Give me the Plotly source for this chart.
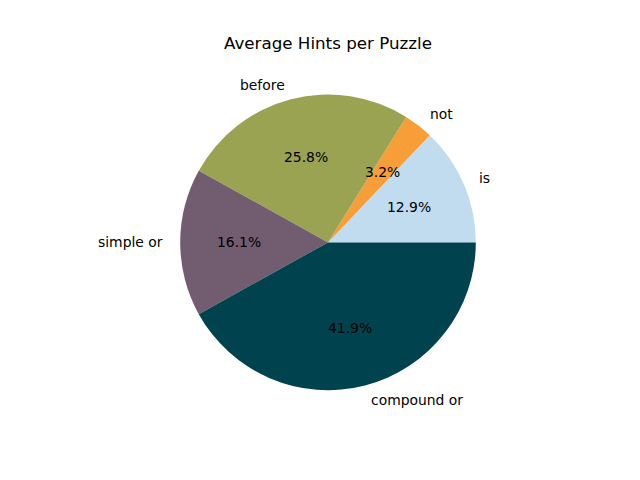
import numpy as np
import plotly.graph_objects as go

labels = ["is", "not", "before", "simple or", "compound or"]
values = [0.4, 0.1, 0.8, 0.5, 1.3]
colors = ["#c1dcef", "#f89e38", "#99a352", "#725c6f", "#00424d"]
title = "Average Hints per Puzzle"

W, H = 640, 480
cx, cy = 328.0, 237.6  # center in pixels from bottom
r = 147.8

vals = np.array(values, dtype=float)
total = vals.sum()

fig = go.Figure(go.Pie(
    labels=labels, values=values, sort=False, direction="counterclockwise",
    rotation=90 - 360 * vals[0] / total,
    marker=dict(colors=colors, line=dict(width=0)),
    textinfo="none", hoverinfo="label+percent", showlegend=False,
    domain=dict(x=[(cx - r) / W, (cx + r) / W], y=[(cy - r) / H, (cy + r) / H]),
))

starts = np.concatenate([[0], np.cumsum(vals)[:-1]])
mids = np.deg2rad(360 * (starts + vals / 2) / total)
font = dict(family="DejaVu Sans", size=13.9, color="black")
anns = []
for lab, v, a in zip(labels, vals, mids):
    lx = cx + 1.1 * r * np.cos(a)
    ly = cy + 1.1 * r * np.sin(a)
    anns.append(dict(x=lx / W, y=ly / H, xref="paper", yref="paper", text=lab,
                     showarrow=False, font=font,
                     xanchor="left" if np.cos(a) > 0 else "right", yanchor="middle"))
    px = cx + 0.6 * r * np.cos(a)
    py = cy + 0.6 * r * np.sin(a)
    anns.append(dict(x=px / W, y=py / H, xref="paper", yref="paper",
                     text=f"{100 * v / total:.1f}%", showarrow=False, font=font,
                     xanchor="center", yanchor="middle"))

anns.append(dict(x=cx / W, y=(H - 43) / H, xref="paper", yref="paper", text=title,
                 showarrow=False, font=dict(family="DejaVu Sans", size=16.7, color="black"),
                 xanchor="center", yanchor="middle"))

fig.update_layout(width=W, height=H, margin=dict(l=0, r=0, t=0, b=0),
                  paper_bgcolor="white", plot_bgcolor="white", annotations=anns)
fig.write_html("out.html", config={"displayModeBar": False},
               post_script="document.body.style.margin='0px';")
